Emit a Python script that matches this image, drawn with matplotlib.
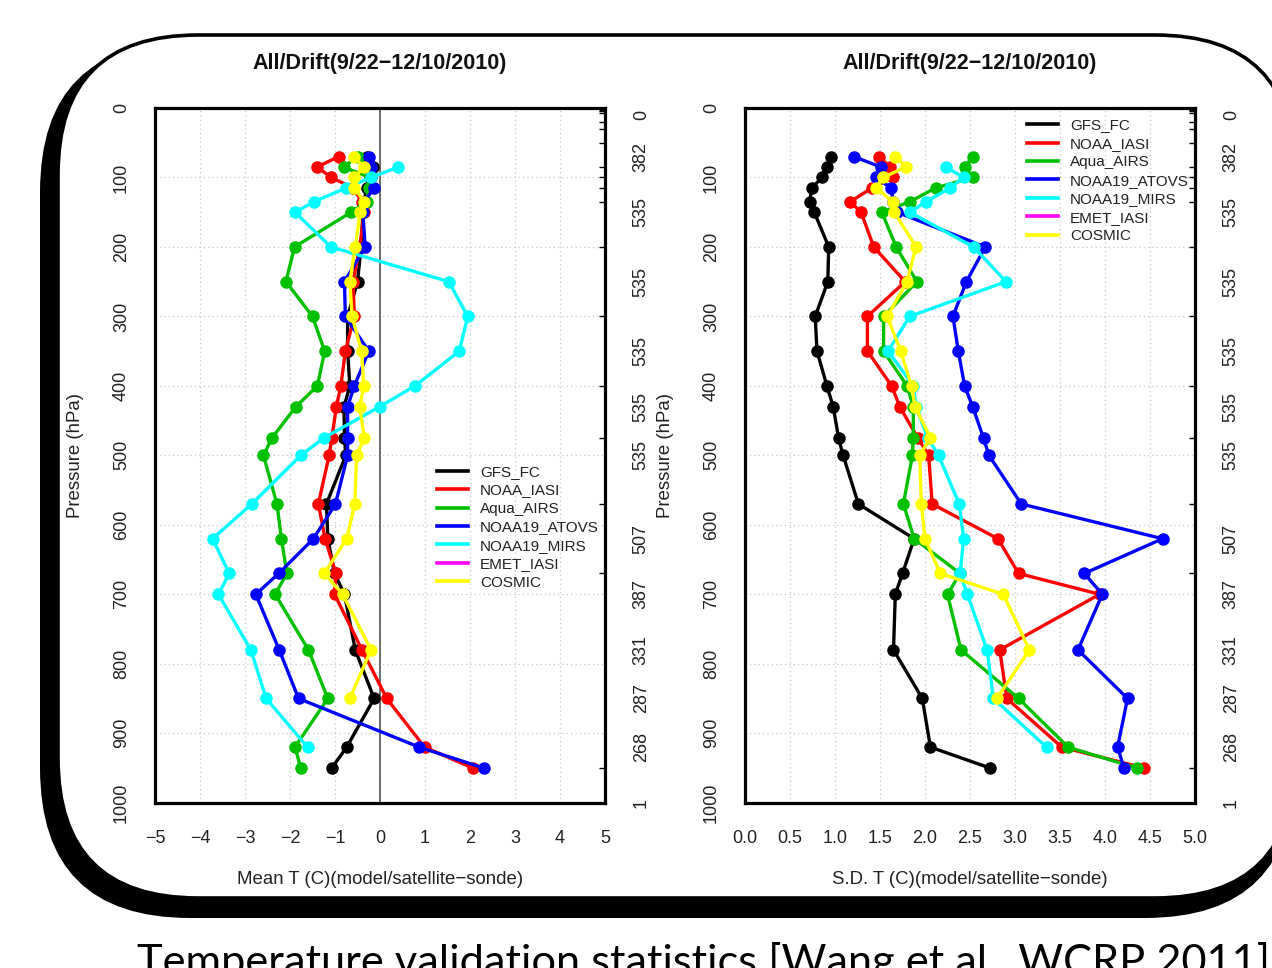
import numpy as np
import matplotlib
matplotlib.use("Agg")
import matplotlib.pyplot as plt
from matplotlib.lines import Line2D
from matplotlib.patches import FancyBboxPatch

plt.rcParams['font.family'] = ['Liberation Sans', 'DejaVu Sans']

nan = np.nan
levels = [70, 85, 100, 115, 135, 150, 200, 250, 300, 350, 400, 430, 475, 500,
          570, 620, 670, 700, 780, 850, 920, 950]

series_names = ['GFS_FC', 'NOAA_IASI', 'Aqua_AIRS', 'NOAA19_ATOVS',
                'NOAA19_MIRS', 'EMET_IASI', 'COSMIC']
series_colors = ['#000000', '#ff0000', '#00c000', '#0000ff', '#00ffff',
                 '#ff00ff', '#ffff00']

# Mean T (model/satellite - sonde)
mean_gfs = [-0.30, -0.15, -0.22, -0.30, -0.35, -0.38, -0.42, -0.50, -0.72, -0.72, -0.67,
            -0.80, -0.79, -0.76, -1.19, -1.16, -1.01, -0.79, -0.55, -0.13, -0.74, -1.07]
mean_iasi = [-0.92, -1.40, -1.08, -0.60, -0.40, -0.35, -0.45, -0.60, -0.57, -0.77, -0.87,
             -0.97, -1.07, -1.13, -1.37, -1.22, -0.98, -1.01, -0.40, 0.15, 0.99, 2.06]
mean_airs = [-0.50, -0.81, -0.22, -0.24, -0.30, -0.64, -1.90, -2.09, -1.50, -1.23, -1.39,
             -1.87, -2.40, -2.59, -2.29, -2.19, -2.07, -2.33, -1.59, -1.16, -1.89, -1.76]
mean_atovs = [-0.24, -0.20, -0.20, -0.13, -0.35, -0.38, -0.33, -0.79, -0.77, -0.25, -0.57,
              -0.72, -0.72, -0.72, -0.99, -1.48, -2.25, -2.76, -2.24, -1.81, 0.87, 2.30]
mean_mirs = [nan, 0.41, -0.20, -0.75, -1.47, -1.89, -1.09, 1.53, 1.95, 1.76, 0.78,
             -0.01, -1.25, -1.76, -2.85, -3.72, -3.35, -3.59, -2.87, -2.53, -1.61, nan]
mean_emet = [nan] * 22
mean_cosmic = [-0.58, -0.35, -0.57, -0.57, -0.35, -0.44, -0.55, -0.67, -0.62, -0.41, -0.36,
               -0.45, -0.35, -0.52, -0.56, -0.74, -1.24, -0.83, -0.20, -0.67, nan, nan]

# S.D. T (model/satellite - sonde)
sd_gfs = [0.96, 0.91, 0.86, 0.74, 0.72, 0.77, 0.93, 0.92, 0.78, 0.80, 0.91,
          0.98, 1.04, 1.09, 1.26, 1.88, 1.75, 1.67, 1.65, 1.97, 2.06, 2.72]
sd_iasi = [1.49, 1.61, 1.65, 1.41, 1.17, 1.29, 1.43, 1.78, 1.36, 1.36, 1.63,
           1.72, 1.92, 2.04, 2.08, 2.81, 3.04, 3.94, 2.83, 2.91, 3.52, 4.43]
sd_airs = [2.53, 2.44, 2.53, 2.12, 1.83, 1.52, 1.68, 1.91, 1.54, 1.54, 1.80,
           1.87, 1.87, 1.86, 1.76, 1.88, 2.39, 2.25, 2.40, 3.04, 3.59, 4.35]
sd_atovs = [1.21, 1.51, 1.46, 1.62, 1.65, 1.69, 2.67, 2.46, 2.31, 2.37, 2.44,
            2.53, 2.65, 2.71, 3.07, 4.64, 3.77, 3.97, 3.70, 4.25, 4.14, 4.21]
sd_mirs = [nan, 2.23, 2.43, 2.28, 2.01, 1.83, 2.54, 2.90, 1.83, 1.59, 1.87,
           1.90, 2.03, 2.15, 2.38, 2.43, 2.39, 2.47, 2.69, 2.76, 3.35, nan]
sd_emet = [nan] * 22
sd_cosmic = [1.67, 1.79, 1.53, 1.46, 1.64, 1.66, 1.90, 1.80, 1.58, 1.73, 1.85,
             1.89, 2.06, 1.94, 1.96, 2.00, 2.17, 2.87, 3.16, 2.80, nan, nan]

mean_data = [mean_gfs, mean_iasi, mean_airs, mean_atovs, mean_mirs, mean_emet, mean_cosmic]
sd_data = [sd_gfs, sd_iasi, sd_airs, sd_atovs, sd_mirs, sd_emet, sd_cosmic]

count_levels = [10, 70, 150, 250, 350, 430, 500, 620, 700, 780, 850, 920, 1000]
count_labels = ['0', '382', '535', '535', '535', '535', '535', '507', '387',
                '331', '287', '268', '1']
minor_levels = [1, 2, 3, 5, 7, 10, 20, 30, 50] + levels + [1000]

title = 'All/Drift(9/22\u221212/10/2010)'
caption = 'Temperature validation statistics [Wang et al., WCRP 2011]'

W, H = 1272, 968
fig = plt.figure(figsize=(W / 100, H / 100), dpi=100)

# Slide frame (rounded box with shadow)
shadow = FancyBboxPatch((0.40 + 1.5, 0.50 + 1.5), 12.95 - 0.40 - 3.0, 9.26 - 0.50 - 3.0,
                        boxstyle='round,pad=1.5', transform=fig.dpi_scale_trans,
                        facecolor='black', edgecolor='none', zorder=-20)
main = FancyBboxPatch((0.58 + 1.4, 0.70 + 1.4), 12.95 - 0.58 - 2.8, 9.33 - 0.70 - 2.8,
                      boxstyle='round,pad=1.4', transform=fig.dpi_scale_trans,
                      facecolor='white', edgecolor='black', linewidth=2.6, zorder=-10)
fig.add_artist(shadow)
fig.add_artist(main)

tick_color = '#222222'
tick_fs = 13
label_fs = 13.4


def make_panel(left_px, data, xlim, xticks, xtick_labels, xlabel, legend_top):
    ax = fig.add_axes([left_px / W, (H - 802.7) / H, 450 / W, 694.7 / H])
    ax.set_facecolor('none')
    ax.set_ylim(1000, 0)
    ax.set_xlim(*xlim)
    ax.set_xticks(xticks, xtick_labels)
    ax.set_yticks(np.arange(0, 1001, 100))
    ax.grid(True, linestyle=(0, (1, 2.5)), color='#c8c8c8', linewidth=0.9)
    ax.set_axisbelow(True)
    for sp in ax.spines.values():
        sp.set_linewidth(2.3)
        sp.set_color('black')
    ax.tick_params(axis='both', length=0, labelsize=tick_fs, colors=tick_color)
    ax.tick_params(axis='x', pad=20)
    ax.tick_params(axis='y', pad=18, labelrotation=90)
    plt.setp(ax.get_yticklabels(), va='center')

    for vals, col in zip(data, series_colors):
        ax.plot(vals, levels, color=col, linewidth=2.4, marker='o',
                markersize=8, markeredgewidth=1.0, markeredgecolor=col, zorder=3)

    ax.set_xlabel(xlabel, fontsize=label_fs, color=tick_color)
    ax.xaxis.set_label_coords(0.5, -0.098)
    ax.set_ylabel('Pressure (hPa)', fontsize=label_fs, color=tick_color)
    ax.yaxis.set_label_coords(-0.158, 0.5)
    ax.set_title(title, fontsize=15.5, fontweight='bold', pad=28, color='#111111')

    handles = [Line2D([], [], color=c, linewidth=2.6) for c in series_colors]
    ax.legend(handles, series_names, loc='upper left',
              bbox_to_anchor=(0.627, legend_top), frameon=False, fontsize=11,
              handlelength=2.0, handletextpad=0.8, labelspacing=0.29,
              borderpad=0, borderaxespad=0, labelcolor=tick_color)

    ax2 = ax.twinx()
    ax2.set_ylim(1000, 0)
    ax2.set_yticks(count_levels, count_labels)
    ax2.set_yticks(minor_levels, minor=True)
    ax2.tick_params(axis='y', which='major', length=0, pad=20, labelsize=tick_fs,
                    labelrotation=90, colors=tick_color)
    ax2.tick_params(axis='y', which='minor', direction='in', length=4, width=1,
                    color='black')
    plt.setp(ax2.get_yticklabels(), va='center')
    for sp in ax2.spines.values():
        sp.set_visible(False)
    return ax


ax_l = make_panel(155, mean_data, (-5, 5), list(range(-5, 6)),
                  [str(v).replace('-', '\u2212') for v in range(-5, 6)],
                  'Mean T (C)(model/satellite\u2212sonde)', 0.486)
ax_l.axvline(0, color='#555555', linewidth=1.2, zorder=2)

sd_ticks = [i * 0.5 for i in range(11)]
make_panel(745, sd_data, (0, 5), sd_ticks, ['%.1f' % v for v in sd_ticks],
           'S.D. T (C)(model/satellite\u2212sonde)', 0.985)

cap = fig.text(137 / W, 1 - 942 / H, caption, fontsize=29, family=['Lato', 'DejaVu Sans'],
               va='top', ha='left', color='black')
fig.canvas.draw()
w = cap.get_window_extent().width
cap.set_fontsize(29 * 1133 / w)

fig.savefig('out.png', dpi=100)
